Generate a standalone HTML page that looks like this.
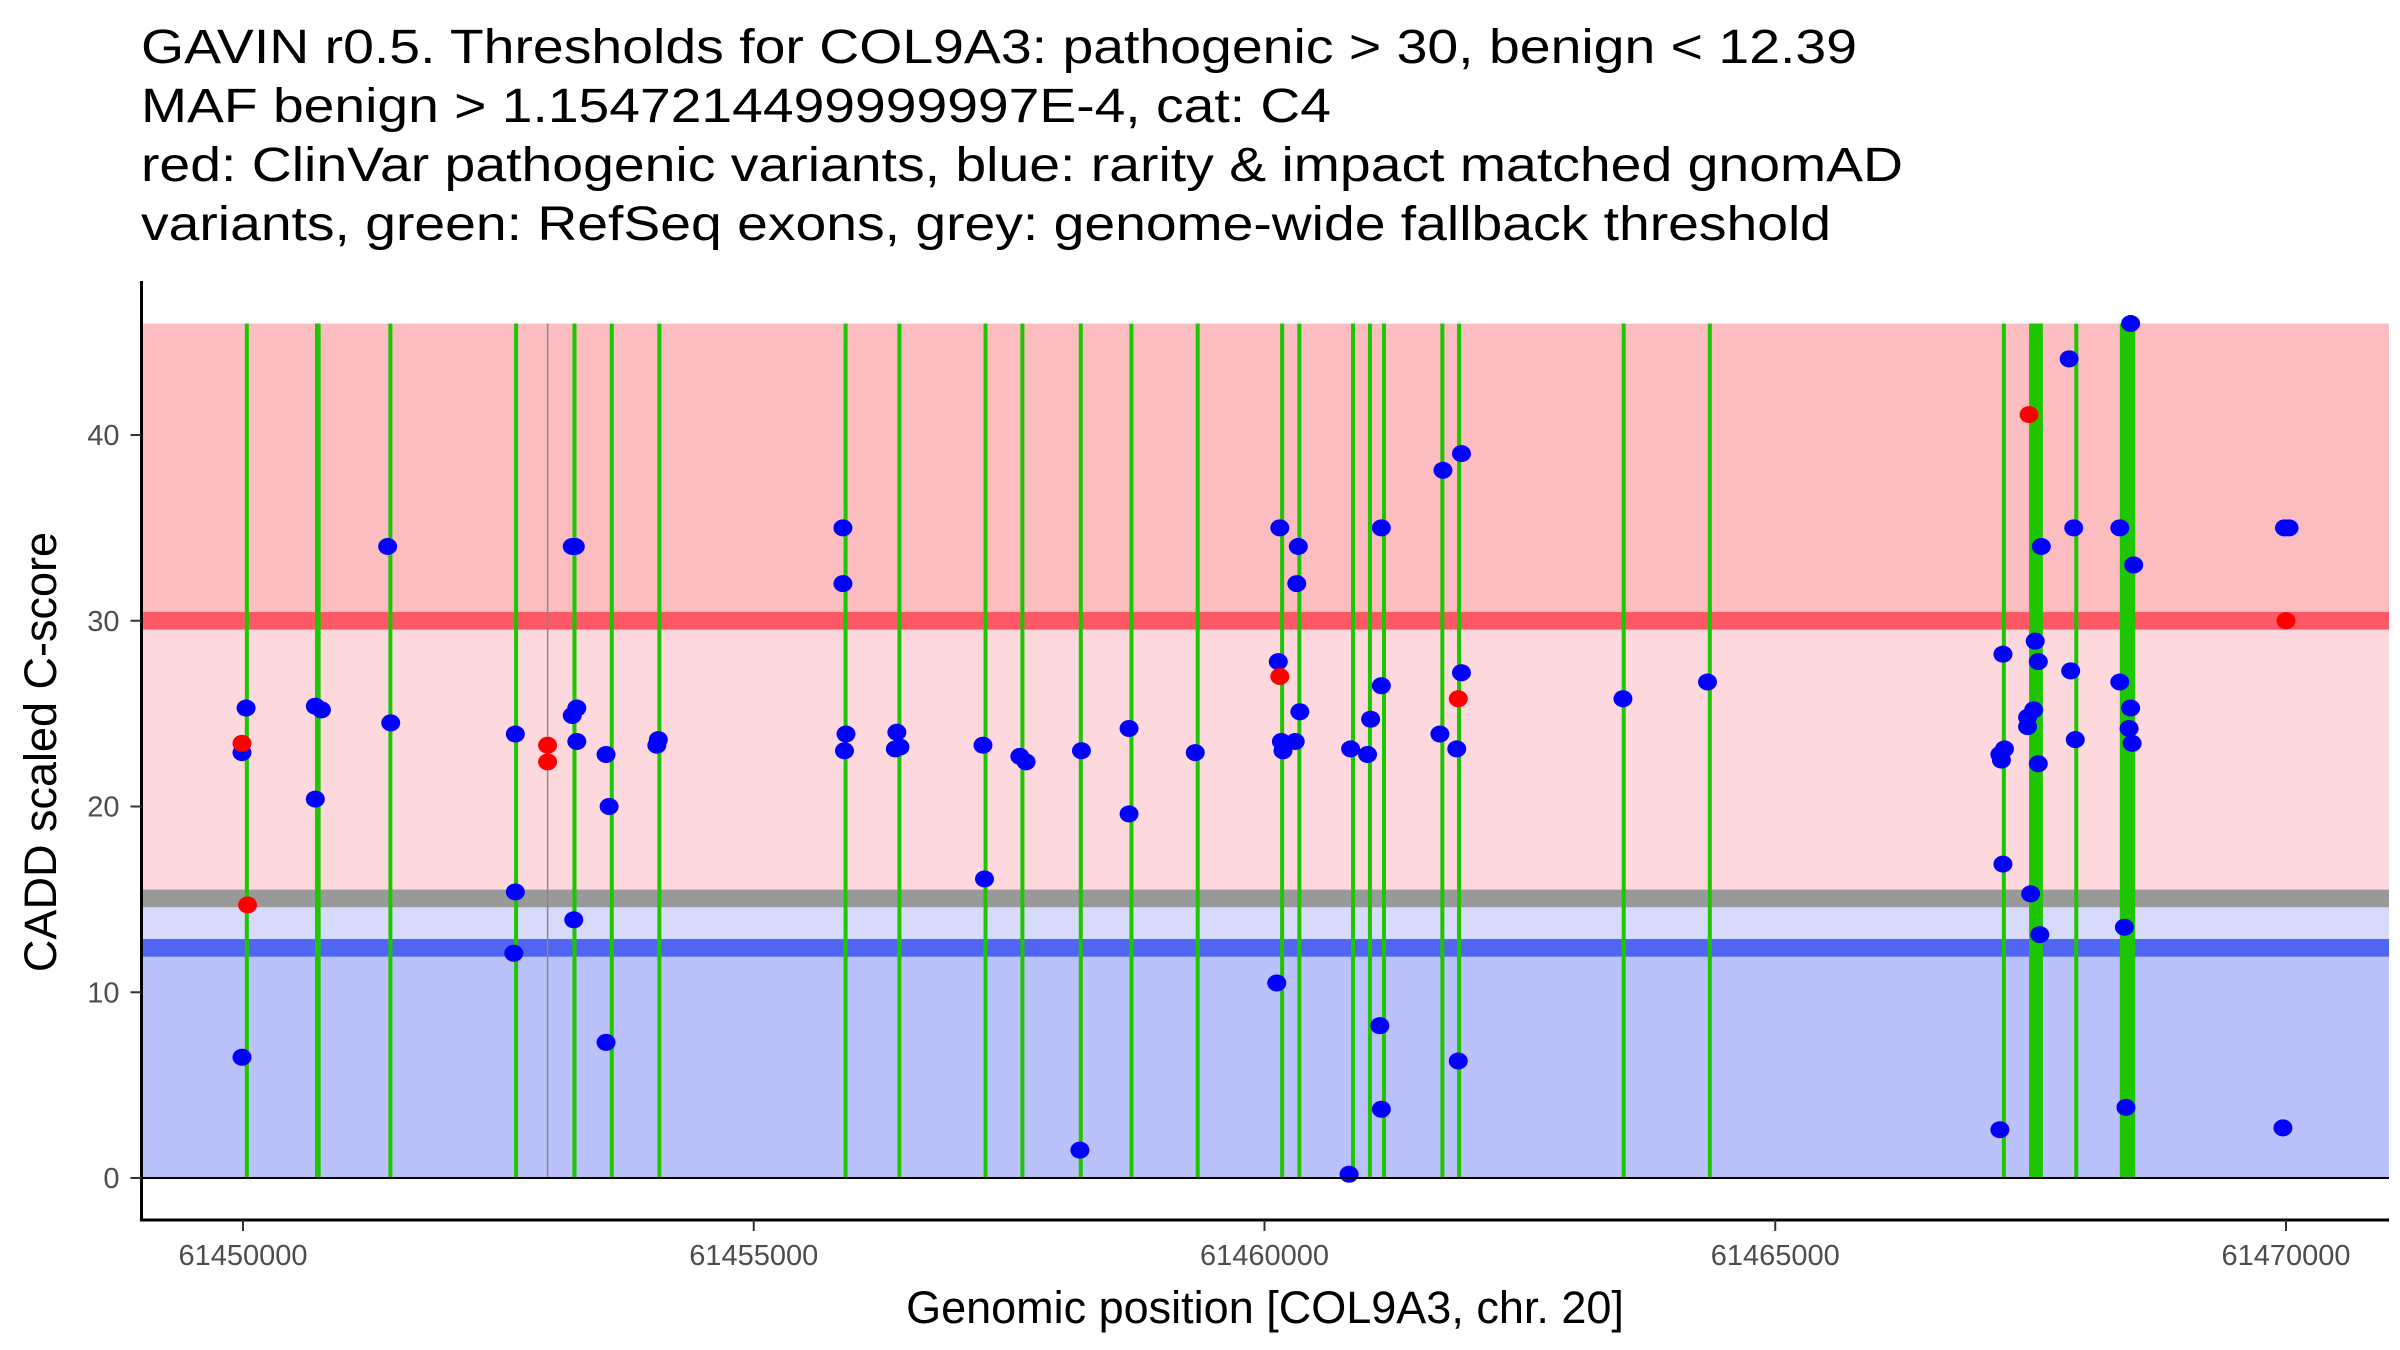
<!DOCTYPE html>
<html><head><meta charset="utf-8"><style>
html,body{margin:0;padding:0;background:#fff;}
svg{display:block;font-family:"Liberation Sans",sans-serif;}
</style></head><body>
<svg id="chart" width="2400" height="1350" viewBox="0 0 2400 1350" xmlns="http://www.w3.org/2000/svg">
<g font-size="48" fill="#000">
<text x="141" y="63" textLength="1716" lengthAdjust="spacingAndGlyphs">GAVIN r0.5. Thresholds for COL9A3: pathogenic &gt; 30, benign &lt; 12.39</text>
<text x="141" y="122" textLength="1190" lengthAdjust="spacingAndGlyphs">MAF benign &gt; 1.1547214499999997E-4, cat: C4</text>
<text x="141" y="181" textLength="1762" lengthAdjust="spacingAndGlyphs">red: ClinVar pathogenic variants, blue: rarity &amp; impact matched gnomAD</text>
<text x="141" y="240" textLength="1690" lengthAdjust="spacingAndGlyphs">variants, green: RefSeq exons, grey: genome-wide fallback threshold</text>
</g>
<g id="bands"></g>
<g id="exons"></g>
<g id="points"></g>
<g id="axes"></g>
</svg>
<script>
const NS="http://www.w3.org/2000/svg";
const exonStarts=[61450030,61450705,61451431,61452666,61453225,61453600,61454066,61455889,61456416,61457259,61457620,61458193,61458690,61459337,61460160,61460331,61460858,61461024,61461160,61461732,61461885,61463509,61464352,61467229,61467485,61467937,61468373];
const exonEnds=[61450045,61450760,61451455,61452681,61453265,61453620,61454086,61455909,61456436,61457279,61457640,61458210,61458705,61459355,61460185,61460351,61460875,61461040,61461180,61461750,61461925,61463524,61464367,61467247,61467620,61467957,61468524];
const blueX=[61449990,61450030,61449990,61450708,61450768,61450708,61451416,61451446,61452666,61452666,61452651,61453223,61453253,61453223,61453268,61453268,61453238,61453554,61453584,61453554,61454051,61454066,61455873,61455873,61455903,61455888,61456401,61456386,61456431,61457244,61457259,61457605,61457666,61458193,61458208,61458674,61458674,61459322,61460150,61460135,61460120,61460165,61460181,61460301,61460331,61460316,61460346,61460828,61460843,61461039,61461009,61461144,61461144,61461129,61461144,61461747,61461717,61461928,61461928,61461882,61461897,61463509,61464337,61467229,61467229,61467199,61467214,61467244,61467199,61467470,61467470,61467530,61467545,61467575,61467605,61467575,61467500,61467590,61467877,61467922,61467892,61467937,61468373,61468373,61468418,61468433,61468479,61468509,61468479,61468464,61468494,61469985,61470030,61469970];
const blueY=[22.9,25.3,6.5,25.4,25.2,20.4,34.0,24.5,23.9,15.4,12.1,34.0,34.0,24.9,25.3,23.5,13.9,22.8,20.0,7.3,23.3,23.6,35.0,32.0,23.9,23.0,24.0,23.1,23.2,23.3,16.1,22.7,22.4,1.5,23.0,24.2,19.6,22.9,35.0,27.8,10.5,23.5,23.0,23.5,34.0,32.0,25.1,0.2,23.1,24.7,22.8,35.0,26.5,8.2,3.7,38.1,23.9,39.0,27.2,23.1,6.3,25.8,26.7,28.2,16.9,2.6,22.5,23.1,22.8,24.3,24.8,25.2,28.9,27.8,34.0,22.3,15.3,13.1,44.1,35.0,27.3,23.6,35.0,26.7,13.5,3.8,46.0,33.0,25.3,24.2,23.4,35.0,35.0,2.7];
const redX=[61449990,61450045,61452982,61452982,61460150,61461897,61467485,61470000];
const redY=[23.4,14.7,23.3,22.4,27.0,25.8,41.1,30.0];
const xTicks=[61450000,61455000,61460000,61465000,61470000];
const yTicks=[0,10,20,30,40];
const pathogenicThreshold=30, benignThreshold=12.39, fallbackThreshold=15.05, yMax=46;

const X0=141.5,X1=2389,YTOP=281,YBOT=1220;
const xs=v=>243+(v-61450000)*510.75/5000;
const ys=v=>1178-v*18.575;
function el(t,a,p){const e=document.createElementNS(NS,t);for(const k in a)e.setAttribute(k,a[k]);p.appendChild(e);return e;}
const bands=document.getElementById('bands');
const half=0.475;
function band(y0,y1,c,name){const e=el('rect',{x:X0,y:ys(y1),width:X1-X0,height:ys(y0)-ys(y1),fill:c},bands);

}
band(pathogenicThreshold,yMax,'#fcbdc1','pathogenic-region');
band(fallbackThreshold,pathogenicThreshold,'#fdd8dc','uncertain-region');
band(benignThreshold,fallbackThreshold-half,'#d8dafc','fallback-benign-region');
band(0,benignThreshold,'#bbc1fa','benign-region');
band(pathogenicThreshold-half,pathogenicThreshold+half,'#fd5866','pathogenic-threshold-line');
band(fallbackThreshold-half,fallbackThreshold+half,'#999999','fallback-threshold-line');
band(benignThreshold-half,benignThreshold+half,'#5066f2','benign-threshold-line');

const ex=document.getElementById('exons');
for(let i=0;i<exonStarts.length;i++){
  const a=xs(exonStarts[i]),b=xs(exonEnds[i]);const w=Math.max(4,b-a);
  const r=el('rect',{x:(a+b)/2-w/2,y:ys(yMax),width:w,height:ys(0)-ys(yMax),fill:'#1ec600'},ex);
  
  
}
const gl=el('line',{x1:xs(61452982),x2:xs(61452982),y1:ys(yMax),y2:ys(0),stroke:'#888',"stroke-width":1.5},ex);



const pts=document.getElementById('points');
for(let i=0;i<blueX.length;i++){
  const c=el('ellipse',{cx:xs(blueX[i]),cy:ys(blueY[i]),rx:9.5,ry:8.5,fill:'#0000ff'},pts);
  
  
}
for(let i=0;i<redX.length;i++){
  const c=el('ellipse',{cx:xs(redX[i]),cy:ys(redY[i]),rx:9.5,ry:8.5,fill:'#ff0000'},pts);
  
  
}

const ax=document.getElementById('axes');
const zl=el('line',{x1:X0,x2:X1,y1:ys(0),y2:ys(0),stroke:'#000',"stroke-width":2},ax);


const ya=el('line',{x1:X0,x2:X0,y1:YTOP,y2:YBOT+1.5,stroke:'#000',"stroke-width":3},ax);


const xa=el('line',{x1:X0-1.5,x2:X1,y1:YBOT,y2:YBOT,stroke:'#000',"stroke-width":3},ax);


for(const t of yTicks){
  const y=ys(t);
  const tk=el('line',{x1:X0-11,x2:X0,y1:y,y2:y,stroke:'#333',"stroke-width":2},ax);
  
  
  const tx=el('text',{x:X0-22,y:y+10,"text-anchor":"end","font-size":29,fill:'#4d4d4d'},ax);
  tx.textContent=t;
  
  
}
for(const t of xTicks){
  const x=xs(t);
  const tk=el('line',{x1:x,x2:x,y1:YBOT,y2:YBOT+11,stroke:'#333',"stroke-width":2},ax);
  
  
  const tx=el('text',{x:x,y:YBOT+45,"text-anchor":"middle","font-size":29,fill:'#4d4d4d'},ax);
  tx.textContent=t;
  
  
}
const xt=el('text',{x:1265,y:1323,"text-anchor":"middle","font-size":45,fill:'#000'},ax);
xt.textContent='Genomic position [COL9A3, chr. 20]';


const yt=el('text',{x:0,y:0,"text-anchor":"middle","font-size":45,fill:'#000',transform:'translate(56,752) rotate(-90)'},ax);
yt.textContent='CADD scaled C-score';


</script>
</body></html>
